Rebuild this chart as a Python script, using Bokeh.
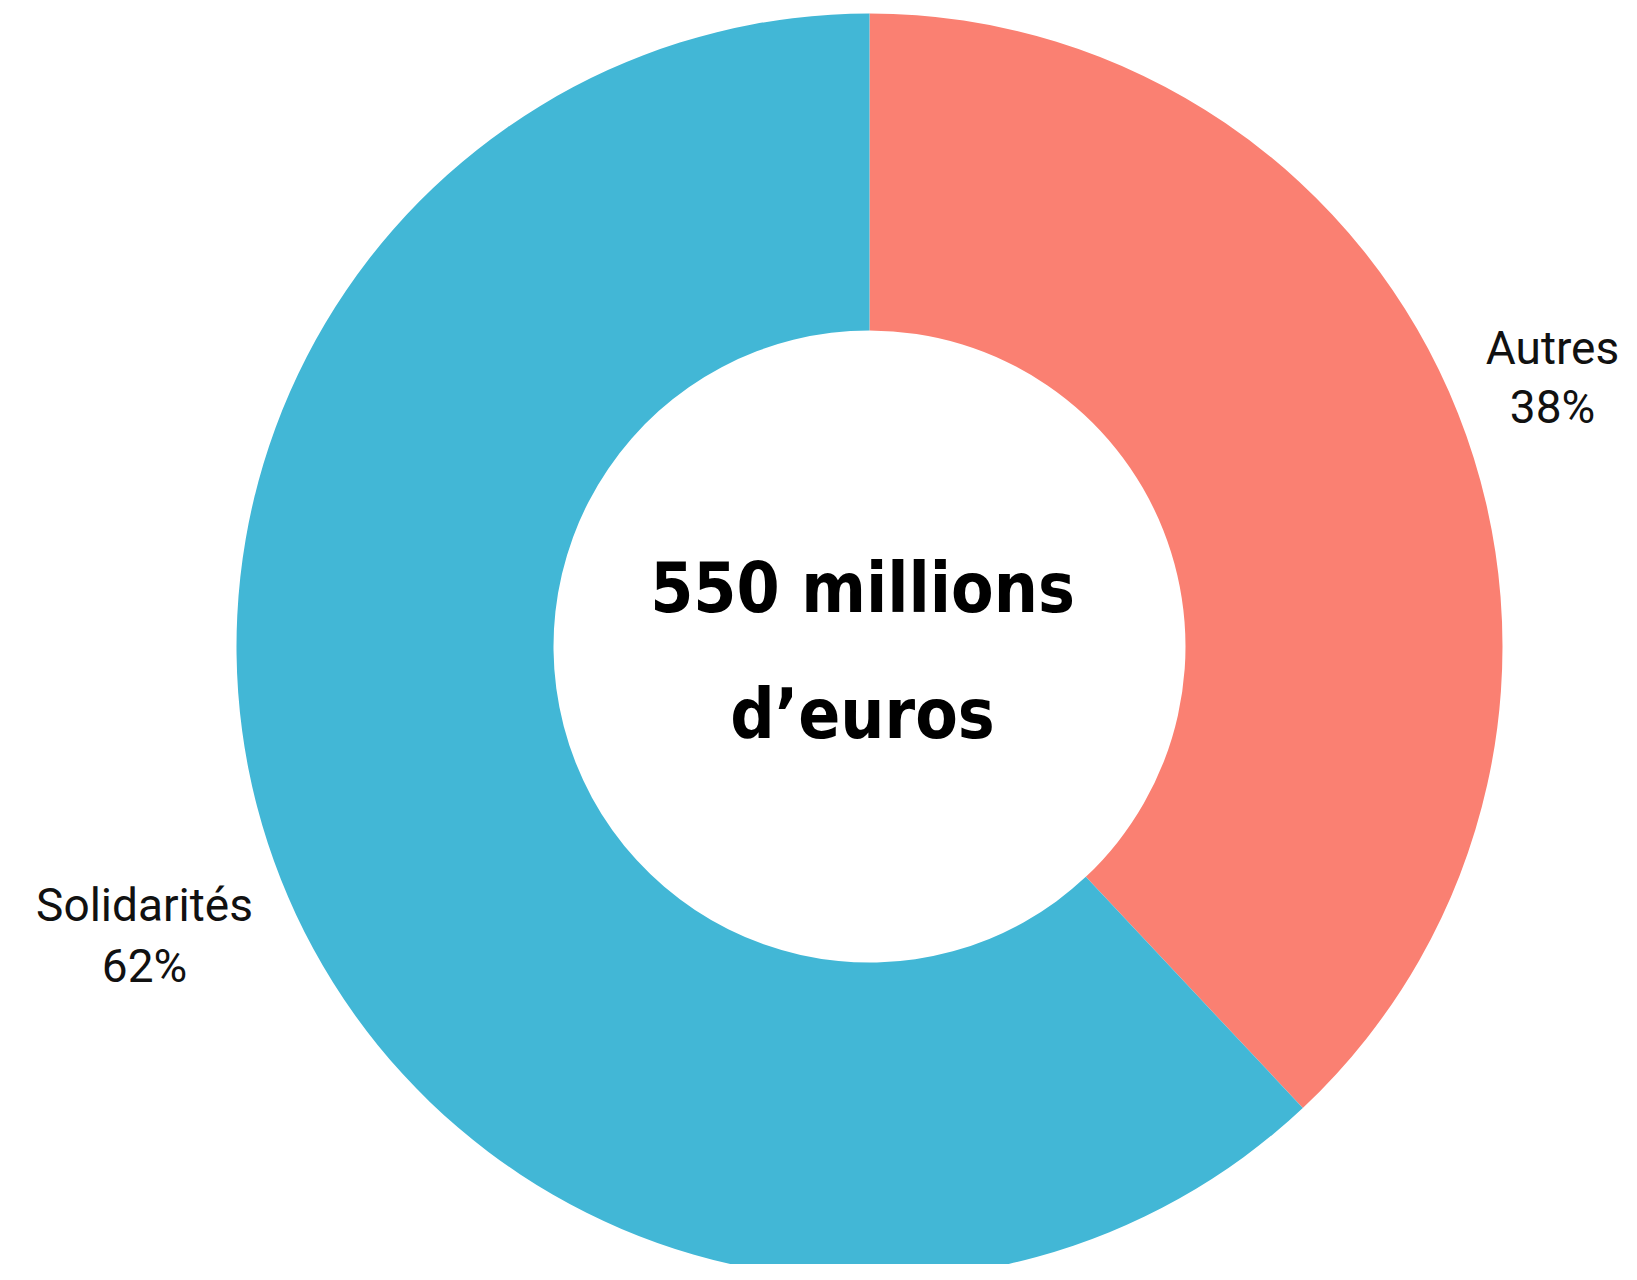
import numpy as np
from bokeh.plotting import figure
from bokeh.models import Range1d, ColumnDataSource
from bokeh.core.properties import value
from bokeh.embed import file_html
from bokeh.resources import INLINE

# Data
categories = ["Autres", "Solidarités"]
shares = [38, 62]
colors = ["#FA8072", "#42B7D6"]
center_lines = ["550 millions", "d’euros"]

W, H = 1621, 1264
p = figure(width=W, height=H, output_backend="svg", toolbar_location=None,
           x_range=Range1d(0, W), y_range=Range1d(0, H), min_border=0)
p.axis.visible = False
p.grid.visible = False
p.outline_line_color = None
p.background_fill_color = "white"

cx, cy = 869, H - 646
r_out, r_in = 633, 316

vals = np.array(shares, dtype=float)
frac = vals / vals.sum()
ends = np.cumsum(frac)
starts = ends - frac
start_angle = np.pi / 2 - starts * 2 * np.pi
end_angle = np.pi / 2 - ends * 2 * np.pi

src = ColumnDataSource(dict(cat=categories, start=start_angle, end=end_angle, color=colors))
p.annular_wedge(x=cx, y=cy, inner_radius=r_in, outer_radius=r_out,
                start_angle="start", end_angle="end", direction="clock",
                fill_color="color", line_color=None, source=src)

# Labels
label_pos = {"Autres": (1552, 347, 406), "Solidarités": (144, 904, 965)}
for cat, sh in zip(categories, shares):
    x, y1, y2 = label_pos[cat]
    p.text(x=[x, x], y=[H - y1, H - y2], text=[cat, f"{sh}%"],
           text_font=value("Roboto"), text_font_size="46px",
           text_color="#111111", text_align="center", text_baseline="alphabetic")

p.text(x=[862, 862], y=[H - 587, H - 713], text=center_lines,
       text_font=value("DejaVu Sans Condensed"), text_font_style="bold",
       text_font_size="69px", text_color="#000000",
       text_align="center", text_baseline="alphabetic")

open("out.html", "w").write(file_html(p, INLINE))
